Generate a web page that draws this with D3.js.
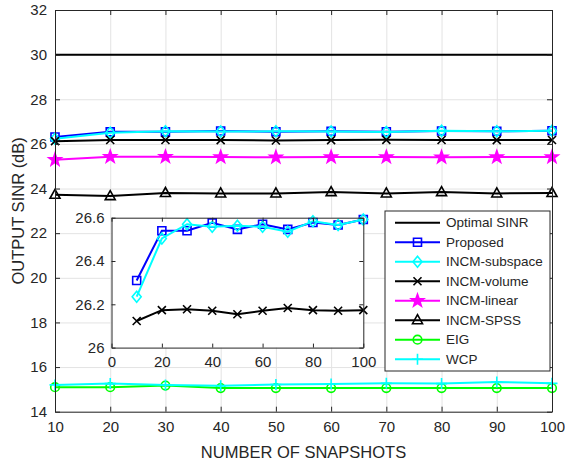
<!DOCTYPE html>
<html>
<head>
<meta charset="utf-8">
<script src="https://cdn.jsdelivr.net/npm/d3@7"></script>
<style>
  html, body { margin: 0; padding: 0; background: #fff; }
  svg { display: block; font-family: "Liberation Sans", Arial, Helvetica, sans-serif; }
</style>
</head>
<body>
<svg id="chart" width="565" height="462"></svg>
<script>
// Output SINR versus number of snapshots
const snapshots = [10, 20, 30, 40, 50, 60, 70, 80, 90, 100];
const optimalSINR = [30, 30, 30, 30, 30, 30, 30, 30, 30, 30];
const proposed    = [26.31, 26.54, 26.54, 26.576, 26.546, 26.57, 26.546, 26.578, 26.566, 26.592];
const incmSubspace = [26.235, 26.504, 26.57, 26.558, 26.563, 26.558, 26.535, 26.584, 26.566, 26.592];
const incmVolume  = [26.123, 26.173, 26.177, 26.17, 26.154, 26.17, 26.183, 26.173, 26.17, 26.173];
const incmLinear  = [25.29, 25.42, 25.42, 25.41, 25.40, 25.41, 25.41, 25.40, 25.41, 25.41];
const incmSPSS    = [23.72, 23.66, 23.80, 23.78, 23.78, 23.84, 23.78, 23.84, 23.78, 23.80];
const eig         = [15.10, 15.10, 15.17, 15.06, 15.06, 15.06, 15.06, 15.06, 15.06, 15.06];
const wcp         = [15.20, 15.26, 15.20, 15.16, 15.22, 15.24, 15.27, 15.26, 15.33, 15.27];

const yTicks = [14, 16, 18, 20, 22, 24, 26, 28, 30, 32];
const xTicks = [10, 20, 30, 40, 50, 60, 70, 80, 90, 100];
const insetXTicks = [0, 20, 40, 60, 80, 100];
const insetYTicks = [26, 26.2, 26.4, 26.6];

const seriesNames = ["Optimal SINR", "Proposed", "INCM-subspace", "INCM-volume",
                     "INCM-linear", "INCM-SPSS", "EIG", "WCP"];
const seriesValues = [optimalSINR, proposed, incmSubspace, incmVolume,
                      incmLinear, incmSPSS, eig, wcp];
const seriesColors = ["#000000", "#0000ff", "#00ffff", "#000000",
                      "#ff00ff", "#000000", "#00ff00", "#00ffff"];
const seriesMarkers = ["none", "square", "diamond", "x", "star", "triangle", "circle", "plus"];

const textColor = "#262626";
const svg = d3.select("#chart");

// marker path builder (centered at 0,0)
function markerPath(type) {
  const p = d3.path();
  switch (type) {
    case "square": p.rect(-4, -4, 8, 8); break;
    case "diamond":
      p.moveTo(0, -5.5); p.lineTo(4.5, 0); p.lineTo(0, 5.5); p.lineTo(-4.5, 0); p.closePath(); break;
    case "x":
      p.moveTo(-4, -4); p.lineTo(4, 4); p.moveTo(-4, 4); p.lineTo(4, -4); break;
    case "plus":
      p.moveTo(-5.5, 0); p.lineTo(5.5, 0); p.moveTo(0, -5.5); p.lineTo(0, 5.5); break;
    case "triangle":
      p.moveTo(0, -5.5); p.lineTo(5, 3.5); p.lineTo(-5, 3.5); p.closePath(); break;
    case "circle": p.arc(0, 0, 4.3, 0, 2 * Math.PI); break;
    case "star": {
      const ro = 6.5, ri = 2.6;
      for (let i = 0; i < 10; i++) {
        const r = i % 2 === 0 ? ro : ri;
        const a = -Math.PI / 2 + i * Math.PI / 5;
        const px = r * Math.cos(a), py = r * Math.sin(a);
        if (i === 0) p.moveTo(px, py); else p.lineTo(px, py);
      }
      p.closePath(); break;
    }
  }
  return p.toString();
}

function drawMarkers(g, pts, type, color) {
  if (type === "none") return;
  g.selectAll(null).data(pts).join("path")
    .attr("transform", d => `translate(${d[0]},${d[1]})`)
    .attr("d", markerPath(type))
    .attr("fill", type === "star" ? color : "none")
    .attr("stroke", color)
    .attr("stroke-width", 1.6);
}

// ---------- main axes ----------
const mLeft = 55, mRight = 552, mTop = 10, mBottom = 411.7;
const x = d3.scaleLinear().domain([10, 100]).range([mLeft, mRight]);
const y = d3.scaleLinear().domain([14, 32]).range([mBottom, mTop]);

// grid
const grid = svg.append("g");
grid.append("g").attr("transform", `translate(0,${mBottom})`)
  .call(d3.axisBottom(x).tickValues(xTicks).tickSize(-(mBottom - mTop)).tickFormat(""))
  .call(g => g.select(".domain").remove())
  .call(g => g.selectAll("line").attr("stroke", "#e3e3e3").attr("stroke-width", 1));
grid.append("g").attr("transform", `translate(${mLeft},0)`)
  .call(d3.axisLeft(y).tickValues(yTicks).tickSize(-(mRight - mLeft)).tickFormat(""))
  .call(g => g.select(".domain").remove())
  .call(g => g.selectAll("line").attr("stroke", "#e3e3e3").attr("stroke-width", 1));

// series
const plotG = svg.append("g");
const line = d3.line().x(d => d[0]).y(d => d[1]);
seriesValues.forEach((vals, i) => {
  const pts = snapshots.map((s, j) => [x(s), y(vals[j])]);
  plotG.append("path").attr("d", line(pts))
    .attr("fill", "none").attr("stroke", seriesColors[i]).attr("stroke-width", 2);
  drawMarkers(plotG, pts, seriesMarkers[i], seriesColors[i]);
});

// axes with inward ticks
function styleAxis(g) {
  g.select(".domain").attr("stroke", textColor).attr("stroke-width", 1);
  g.selectAll(".tick line").attr("stroke", textColor);
  g.selectAll(".tick text").attr("fill", textColor).style("font-size", "15px");
}
svg.append("g").attr("transform", `translate(0,${mBottom})`)
  .call(d3.axisBottom(x).tickValues(xTicks).tickSizeInner(-5).tickSizeOuter(0).tickPadding(10).tickFormat(d3.format("d")))
  .call(styleAxis);
svg.append("g").attr("transform", `translate(0,${mTop})`)
  .call(d3.axisTop(x).tickValues(xTicks).tickSizeInner(-5).tickSizeOuter(0).tickFormat(""))
  .call(styleAxis);
svg.append("g").attr("transform", `translate(${mLeft},0)`)
  .call(d3.axisLeft(y).tickValues(yTicks).tickSizeInner(-5).tickSizeOuter(0).tickPadding(8).tickFormat(d3.format("d")))
  .call(styleAxis);
svg.append("g").attr("transform", `translate(${mRight},0)`)
  .call(d3.axisRight(y).tickValues(yTicks).tickSizeInner(-5).tickSizeOuter(0).tickFormat(""))
  .call(styleAxis);

// axis titles
svg.append("text").attr("x", (mLeft + mRight) / 2).attr("y", 458)
  .attr("text-anchor", "middle").attr("fill", textColor).style("font-size", "16.5px")
  .text("NUMBER OF SNAPSHOTS");
svg.append("text").attr("transform", `translate(24,${(mTop + mBottom) / 2}) rotate(-90)`)
  .attr("text-anchor", "middle").attr("fill", textColor).style("font-size", "16.5px")
  .text("OUTPUT SINR (dB)");

// ---------- inset ----------
const iL = 111.5, iR = 363.3, iT = 217.7, iB = 347.6;
const xi = d3.scaleLinear().domain([0, 100]).range([iL, iR]);
const yi = d3.scaleLinear().domain([26, 26.6]).range([iB, iT]);
const inset = svg.append("g");
inset.append("rect").attr("x", iL).attr("y", iT).attr("width", iR - iL).attr("height", iB - iT)
  .attr("fill", "#fff");
[[proposed, 1], [incmSubspace, 2], [incmVolume, 3]].forEach(([vals, i]) => {
  const pts = snapshots.map((s, j) => [xi(s), yi(vals[j])]);
  inset.append("path").attr("d", line(pts))
    .attr("fill", "none").attr("stroke", seriesColors[i]).attr("stroke-width", 2);
  drawMarkers(inset, pts, seriesMarkers[i], seriesColors[i]);
});
inset.append("g").attr("transform", `translate(0,${iB})`)
  .call(d3.axisBottom(xi).tickValues(insetXTicks).tickSizeInner(-4).tickSizeOuter(0).tickPadding(9).tickFormat(d3.format("d")))
  .call(styleAxis);
inset.append("g").attr("transform", `translate(0,${iT})`)
  .call(d3.axisTop(xi).tickValues(insetXTicks).tickSizeInner(-4).tickSizeOuter(0).tickFormat(""))
  .call(styleAxis);
inset.append("g").attr("transform", `translate(${iL},0)`)
  .call(d3.axisLeft(yi).tickValues(insetYTicks).tickSizeInner(-4).tickSizeOuter(0).tickPadding(7).tickFormat(d => d === 26 ? "26" : d3.format(".1f")(d)))
  .call(styleAxis);
inset.append("g").attr("transform", `translate(${iR},0)`)
  .call(d3.axisRight(yi).tickValues(insetYTicks).tickSizeInner(-4).tickSizeOuter(0).tickFormat(""))
  .call(styleAxis);

// ---------- legend ----------
const lgX = 385, lgY = 211, lgW = 165, lgH = 160, rowH = 19.5;
const legend = svg.append("g");
legend.append("rect").attr("x", lgX).attr("y", lgY).attr("width", lgW).attr("height", lgH)
  .attr("fill", "#fff").attr("stroke", textColor).attr("stroke-width", 1);
seriesNames.forEach((name, i) => {
  const cy = lgY + 11.7 + i * rowH;
  legend.append("line").attr("x1", lgX + 10).attr("x2", lgX + 55).attr("y1", cy).attr("y2", cy)
    .attr("stroke", seriesColors[i]).attr("stroke-width", 2);
  drawMarkers(legend, [[lgX + 32.5, cy]], seriesMarkers[i], seriesColors[i]);
  legend.append("text").attr("x", lgX + 61).attr("y", cy).attr("dy", "0.35em")
    .attr("fill", textColor).style("font-size", "13.5px").text(name);
});
</script>
</body>
</html>
